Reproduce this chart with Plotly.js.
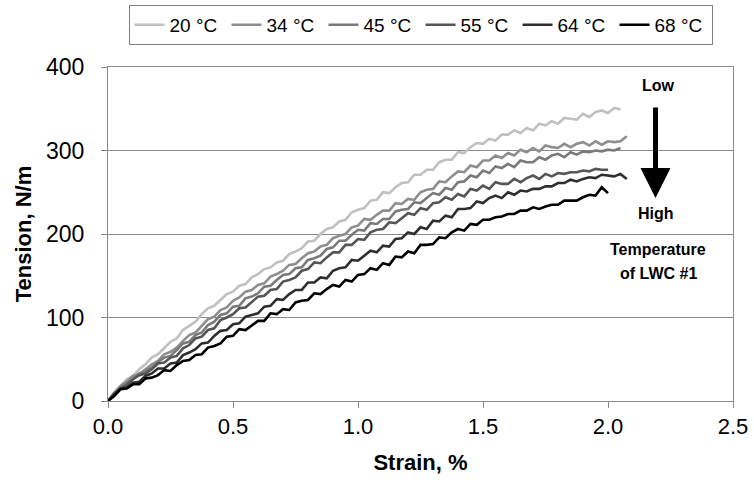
<!DOCTYPE html>
<html>
<head>
<meta charset="utf-8">
<script src="https://cdn.plot.ly/plotly-3.0.1.min.js"></script>
<style>html,body{margin:0;padding:0;background:#fff;}#chart{width:754px;height:485px;}</style>
</head>
<body>
<div id="chart"></div>
<script>
// Strain (%) sample positions
var strain = [0,0.025,0.05,0.075,0.1,0.125,0.15,0.175,0.2,0.225,0.25,0.275,0.3,0.325,0.35,0.375,0.4,0.425,0.45,0.475,
  0.5,0.525,0.55,0.575,0.6,0.625,0.65,0.675,0.7,0.725,0.75,0.775,0.8,0.825,0.85,0.875,0.9,0.925,0.95,0.975,
  1.0,1.025,1.05,1.075,1.1,1.125,1.15,1.175,1.2,1.225,1.25,1.275,1.3,1.325,1.35,1.375,1.4,1.425,1.45,1.475,
  1.5,1.525,1.55,1.575,1.6,1.625,1.65,1.675,1.7,1.725,1.75,1.775,1.8,1.825,1.85,1.875,1.9,1.925,1.95,1.975,
  2.0,2.025,2.05,2.075];

var seriesNames = ["20 °C","34 °C","45 °C","55 °C","64 °C","68 °C"];

// Tension (N/m) per temperature
var t20 = [0,11,18,26,30,38,44,52,56,64,71,75,85,90,95,104,111,114,121,128,
  131,138,140,148,152,158,160,166,168,176,179,183,191,192,200,206,208,215,217,226,
  229,231,240,241,250,249,256,261,262,271,271,277,277,286,289,289,298,297,304,309,
  308,314,312,319,319,324,321,327,324,332,330,335,332,339,338,337,344,340,346,348,
  345,351,349];
var t34 = [0,9,18,23,30,32,38,44,48,56,59,64,72,79,82,90,98,101,109,112,
  120,124,131,133,139,141,149,152,156,163,164,171,177,179,185,187,195,198,200,208,
  210,218,217,223,228,228,237,236,242,241,250,253,254,263,262,269,275,274,282,280,
  288,288,294,291,297,294,301,298,303,299,306,304,303,308,304,308,310,306,311,307,
  311,310,311,317];
var t45 = [0,8,16,22,26,33,36,40,47,52,54,61,69,71,79,82,91,95,103,105,
  113,114,123,125,129,137,138,145,151,152,159,160,169,171,174,182,184,192,192,199,
  205,204,213,212,218,218,227,229,230,238,237,243,249,247,255,253,262,263,270,268,
  276,273,281,279,284,280,288,286,286,292,289,294,296,292,298,295,299,298,300,299,
  301,300,303];
var t55 = [0,9,15,19,26,31,33,38,45,46,52,54,63,67,75,77,85,87,97,100,
  104,111,112,119,125,126,133,134,143,145,148,156,158,166,165,172,178,178,187,187,
  194,193,202,205,206,214,213,219,225,223,231,229,237,238,244,241,248,245,254,252,
  258,254,262,260,260,266,262,267,270,266,272,269,273,272,274,274,276,275,278,277,
  277];
var t64 = [0,7,15,16,22,23,30,33,39,39,45,46,55,58,62,69,70,78,84,85,
  92,93,101,103,105,113,114,122,121,128,133,133,142,142,148,147,156,159,160,169,
  168,174,180,178,186,185,194,195,202,200,208,206,216,215,222,220,230,230,231,239,
  237,243,246,243,250,247,252,251,254,254,257,257,261,261,265,263,266,268,267,271,
  270,269,272,266];
var t68 = [0,6,14,15,20,20,27,28,31,37,36,43,48,49,55,56,64,66,69,77,
  78,86,85,91,96,96,105,104,110,109,118,120,121,129,128,134,139,137,145,143,
  151,152,159,157,165,163,173,172,179,177,187,187,188,196,195,202,206,204,212,211,
  217,217,220,221,224,224,228,228,232,230,233,235,235,240,240,240,244,247,246,256,
  249];

var values = [t20,t34,t45,t55,t64,t68];
var colors = ["#c0c0c0","#8e8e8e","#7a7a7a","#555555","#2e2e2e","#000000"];

var xTickVals = [0,0.5,1.0,1.5,2.0,2.5];
var xTickText = ["0.0","0.5","1.0","1.5","2.0","2.5"];
var yTickVals = [0,100,200,300,400];

var traces = values.map(function(v,i){
  return {
    x: strain.slice(0, v.length),
    y: v,
    type: 'scatter',
    mode: 'lines',
    name: seriesNames[i],
    line: {color: colors[i], width: 2.6}
  };
});

var font = "Liberation Sans, Arial, sans-serif";
var layout = {
  width: 754, height: 485,
  margin: {l:108, r:21, t:67, b:84},
  paper_bgcolor: '#fff', plot_bgcolor: '#fff',
  font: {family: font, color: '#000'},
  showlegend: true,
  legend: {
    orientation: 'h', xref: 'container', yref: 'container',
    x: 0.945, xanchor: 'right', y: 0.99, yanchor: 'top',
    font: {family: font, size: 19, color: '#000'},
    bordercolor: '#808080', borderwidth: 1, bgcolor: '#fff',
    itemwidth: 30, tracegroupgap: 0,
    entrywidth: 52, entrywidthmode: 'pixels'
  },
  xaxis: {
    range: [0, 2.5], tickvals: xTickVals, ticktext: xTickText,
    showgrid: false, zeroline: false,
    showline: true, mirror: true, linecolor: '#8a8a8a', linewidth: 1,
    ticks: 'outside', ticklen: 6, tickcolor: '#8a8a8a',
    tickfont: {family: font, size: 22, color: '#000'},
    title: {text: '<b>Strain, %</b>', font: {family: font, size: 22, color: '#000'}, standoff: 16}
  },
  yaxis: {
    range: [0, 400], tickvals: yTickVals,
    showgrid: true, gridcolor: '#8a8a8a', gridwidth: 1, zeroline: false,
    showline: true, mirror: true, linecolor: '#8a8a8a', linewidth: 1,
    ticks: 'outside', ticklen: 6, tickcolor: '#8a8a8a',
    ticklabelstandoff: 12,
    tickfont: {family: font, size: 23, color: '#000'},
    title: {text: '<b>Tension, N/m</b>', font: {family: font, size: 22, color: '#000'}, standoff: 8}
  },
  annotations: [
    {x: 2.2, y: 378, xref: 'x', yref: 'y', text: '<b>Low</b>', showarrow: false,
     font: {family: font, size: 16, color: '#000'}},
    {x: 2.19, y: 243, xref: 'x', yref: 'y', text: '', showarrow: true,
     ax: 0, ay: -92, arrowhead: 2, arrowsize: 1.2, arrowwidth: 5, arrowcolor: '#000'},
    {x: 2.19, y: 225, xref: 'x', yref: 'y', text: '<b>High</b>', showarrow: false,
     font: {family: font, size: 16, color: '#000'}},
    {x: 2.2, y: 181, xref: 'x', yref: 'y', text: '<b>Temperature</b>', showarrow: false,
     font: {family: font, size: 16, color: '#000'}},
    {x: 2.2, y: 153, xref: 'x', yref: 'y', text: '<b>of LWC #1</b>', showarrow: false,
     font: {family: font, size: 16, color: '#000'}}
  ]
};

Plotly.newPlot('chart', traces, layout, {displayModeBar: false, staticPlot: true});
</script>
</body>
</html>
